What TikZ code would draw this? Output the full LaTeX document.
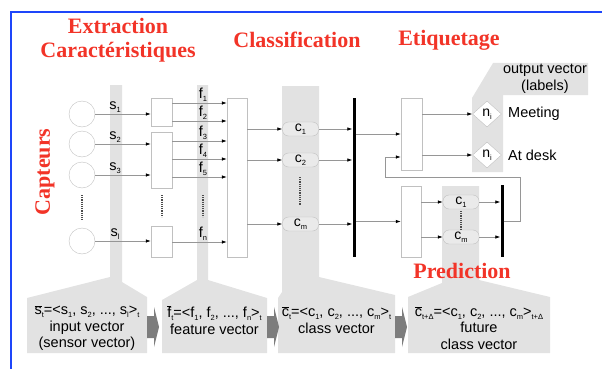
\documentclass[tikz,border=0pt]{standalone}
\usepackage{fontspec}
\setmainfont{Liberation Sans}
\newfontfamily\titlefont{Liberation Serif}
\usetikzlibrary{arrows.meta,shapes.geometric}
\definecolor{titlered}{RGB}{242,52,40}
\definecolor{frameblue}{RGB}{30,70,250}
\definecolor{bandgray}{RGB}{226,226,226}
\definecolor{wiregray}{RGB}{150,150,150}
\definecolor{edgegray}{RGB}{192,192,192}
\definecolor{pillgray}{RGB}{234,234,234}
\definecolor{chevgray}{RGB}{125,125,125}
\newcommand{\idx}[1]{\raisebox{-0.4ex}{\fontsize{7.5}{8}\selectfont #1}}
\tikzset{
  heading/.style={font=\titlefont\bfseries\fontsize{22}{24}\selectfont, text=titlered, align=center, inner sep=0pt},
  sensor/.style={circle, draw=edgegray, fill=white, minimum size=26pt, inner sep=0pt},
  block/.style={draw=edgegray, fill=white, minimum width=21pt, inner sep=0pt},
  pill/.style={draw=edgegray, fill=pillgray, rounded corners=6pt, minimum width=36pt, minimum height=14pt, inner sep=0pt, font=\fontsize{14}{14}\selectfont},
  tag/.style={diamond, draw=edgegray, fill=white, minimum width=29pt, minimum height=26pt, inner sep=0pt, font=\fontsize{14}{14}\selectfont},
  thickbar/.style={fill=black, minimum width=3pt, inner sep=0pt},
  wire/.style={draw=wiregray, line width=0.7pt, -{Latex[color=black,length=5pt,width=3.5pt]}},
  sig/.style={font=\fontsize{14.5}{14}\selectfont, inner sep=1pt, anchor=south},
  vec/.style={font=\fontsize{14.5}{16.5}\selectfont, align=center, inner sep=0pt},
  band/.style={fill=bandgray},
  chev/.style={fill=chevgray},
  vdots/.style={draw=black!70, line width=1.5pt, dash pattern=on 1.1pt off 1.1pt}
}
\begin{document}
\begin{tikzpicture}[x=1pt,y=-1pt]
    \useasboundingbox (0,0) rectangle (602,369);
    % frame
    \draw[frameblue, line width=2pt] (11,369) -- (11,12) -- (602,12);

    % gray bands and vector panels
    \fill[band] (110,85) -- (122,85) -- (122,282) -- (147,297) -- (147,353) -- (27,353) -- (27,298) -- (110,277) -- cycle;
    \fill[band] (197,85) -- (208,85) -- (208,280) -- (267,298) -- (267,353) -- (162,353) -- (162,300) -- (197,280) -- cycle;
    \fill[band] (282,86) -- (319,86) -- (319,277) -- (395,295) -- (395,353) -- (278,353) -- (278,298) -- (282,292) -- cycle;
    \fill[band] (442,186) -- (479,186) -- (479,280) -- (550,297) -- (550,353) -- (408,353) -- (408,297) -- (442,283) -- cycle;
    \fill[band] (472,172) -- (472,98) -- (493,63) -- (588,63) -- (588,95) -- (503,95) -- (503,172) -- cycle;
    \foreach \x in {147,267,395}
        \fill[chev] (\x,316) -- (\x+7,316) -- (\x+7,307) -- (\x+12,327) -- (\x+7,347) -- (\x+7,338) -- (\x,338) -- cycle;

    % sensors and extraction
    \node[sensor] (sen1) at (82,114) {};
    \node[sensor] (sen2) at (82,144) {};
    \node[sensor] (sen3) at (82,175) {};
    \node[sensor] (senl) at (82,241) {};
    \node[block, minimum height=28pt] (fx1) at (161.5,112) {};
    \node[block, minimum height=56pt] (fx2) at (161.5,160) {};
    \node[block, minimum height=31pt] (fxl) at (161.5,241.5) {};
    \node[block, minimum width=20pt, minimum height=159pt] (cl) at (237,177.5) {};

    % classification
    \node[pill] (c1) at (300.5,129) {c\idx{1}};
    \node[pill] (c2) at (300.5,160) {c\idx{2}};
    \node[pill] (cm) at (300.5,224) {c\idx{m}};
    \node[thickbar, minimum height=159pt] (bar1) at (354,177.5) {};

    % labelling and prediction
    \node[block, minimum height=72pt] (lab) at (411.5,134) {};
    \node[block, minimum width=20pt, minimum height=71pt] (pre) at (411,221.5) {};
    \node[tag] (n1) at (487,114) {n\idx{i}};
    \node[tag] (n2) at (487,155) {n\idx{i}};
    \node[pill] (pc1) at (461,202) {c\idx{1}};
    \node[pill] (pcm) at (461,237) {c\idx{m}};
    \node[thickbar, minimum height=72pt] (bar2) at (502,221) {};

    % signals
    \foreach \n/\y in {1/114,2/144,3/175,l/241}
        \node[sig] (s\n) at (115,\y) {s\idx{\n}};
    \foreach \n/\y in {1/103,2/121,3/141,4/159,5/177,n/242}
        \node[sig] (f\n) at (203,\y) {f\idx{\n}};
    \foreach \n in {1,2,3,l}
        \draw[wire] (sen\n) -- (sen\n -| fx1.west);
    \foreach \n/\b in {1/fx1,2/fx1,3/fx2,4/fx2,5/fx2,n/fxl}
        \draw[wire] (\b.east |- f\n.south) -- (cl.west |- f\n.south);
    \foreach \c in {c1,c2,cm} {
        \draw[wire] (cl.east |- \c.west) -- (\c.west);
        \draw[wire] (\c.east) -- (\c.east -| bar1.west);
    }
    \draw[wire] (bar1.east |- lab.west) -- (lab.west);
    \draw[wire] (bar1.east |- pre.west) -- (pre.west);
    \foreach \t in {n1,n2}
        \draw[wire] (lab.east |- \t.west) -- (\t.west);
    \foreach \c in {pc1,pcm} {
        \draw[wire] (pre.east |- \c.west) -- (\c.west);
        \draw[wire] (\c.east) -- (\c.east -| bar2.west);
    }
    % feedback of the predicted classes
    \coordinate (fbk) at (520,177);
    \coordinate (fbin) at (385,157);
    \draw[wire] (bar2.east) -| (fbk) -| (fbin) -- (fbin -| lab.west);

    % dotted continuations
    \draw[vdots] (82,195) -- (82,220);
    \draw[vdots] (162,195) -- (162,217);
    \draw[vdots] (203,195) -- (203,217);
    \draw[vdots] (300,177) -- (300,205);
    \draw[vdots] (461,211) -- (461,229);

    % output labels
    \node[vec] (outv) at (545,79) {output vector\\(labels)};
    \node[vec, anchor=west] (meet) at (508,114) {Meeting};
    \node[vec, anchor=west] (desk) at (508,155) {At desk};

    % vectors
    \node[vec] (vin) at (87,328) {$\overline{\mbox{s}}$\idx{t}=<s\idx{1}, s\idx{2}, ..., s\idx{l}>\idx{t}\\input vector\\(sensor vector)};
    \node[vec] (vfeat) at (214.5,320) {$\overline{\mbox{f}}$\idx{t}=<f\idx{1}, f\idx{2}, ..., f\idx{n}>\idx{t}\\feature vector};
    \node[vec] (vcls) at (336.5,320) {$\overline{\mbox{c}}$\idx{t}=<c\idx{1}, c\idx{2}, ..., c\idx{m}>\idx{t}\\class vector};
    \node[vec] (vfut) at (479,328) {$\overline{\mbox{c}}$\idx{t+Δ}=<c\idx{1}, c\idx{2}, ..., c\idx{m}>\idx{t+Δ}\\future\\class vector};

    % titles
    \node[heading] (ttlext) at (118,40) {Extraction\\Caractéristiques};
    \node[heading] (ttlcls) at (297,40) {Classification};
    \node[heading] (ttletq) at (449,40) {Etiquetage};
    \node[heading] (ttlpred) at (462,271) {Prediction};
    \node[heading, rotate=90] (ttlcap) at (45,172) {Capteurs};
\end{tikzpicture}
\end{document}
